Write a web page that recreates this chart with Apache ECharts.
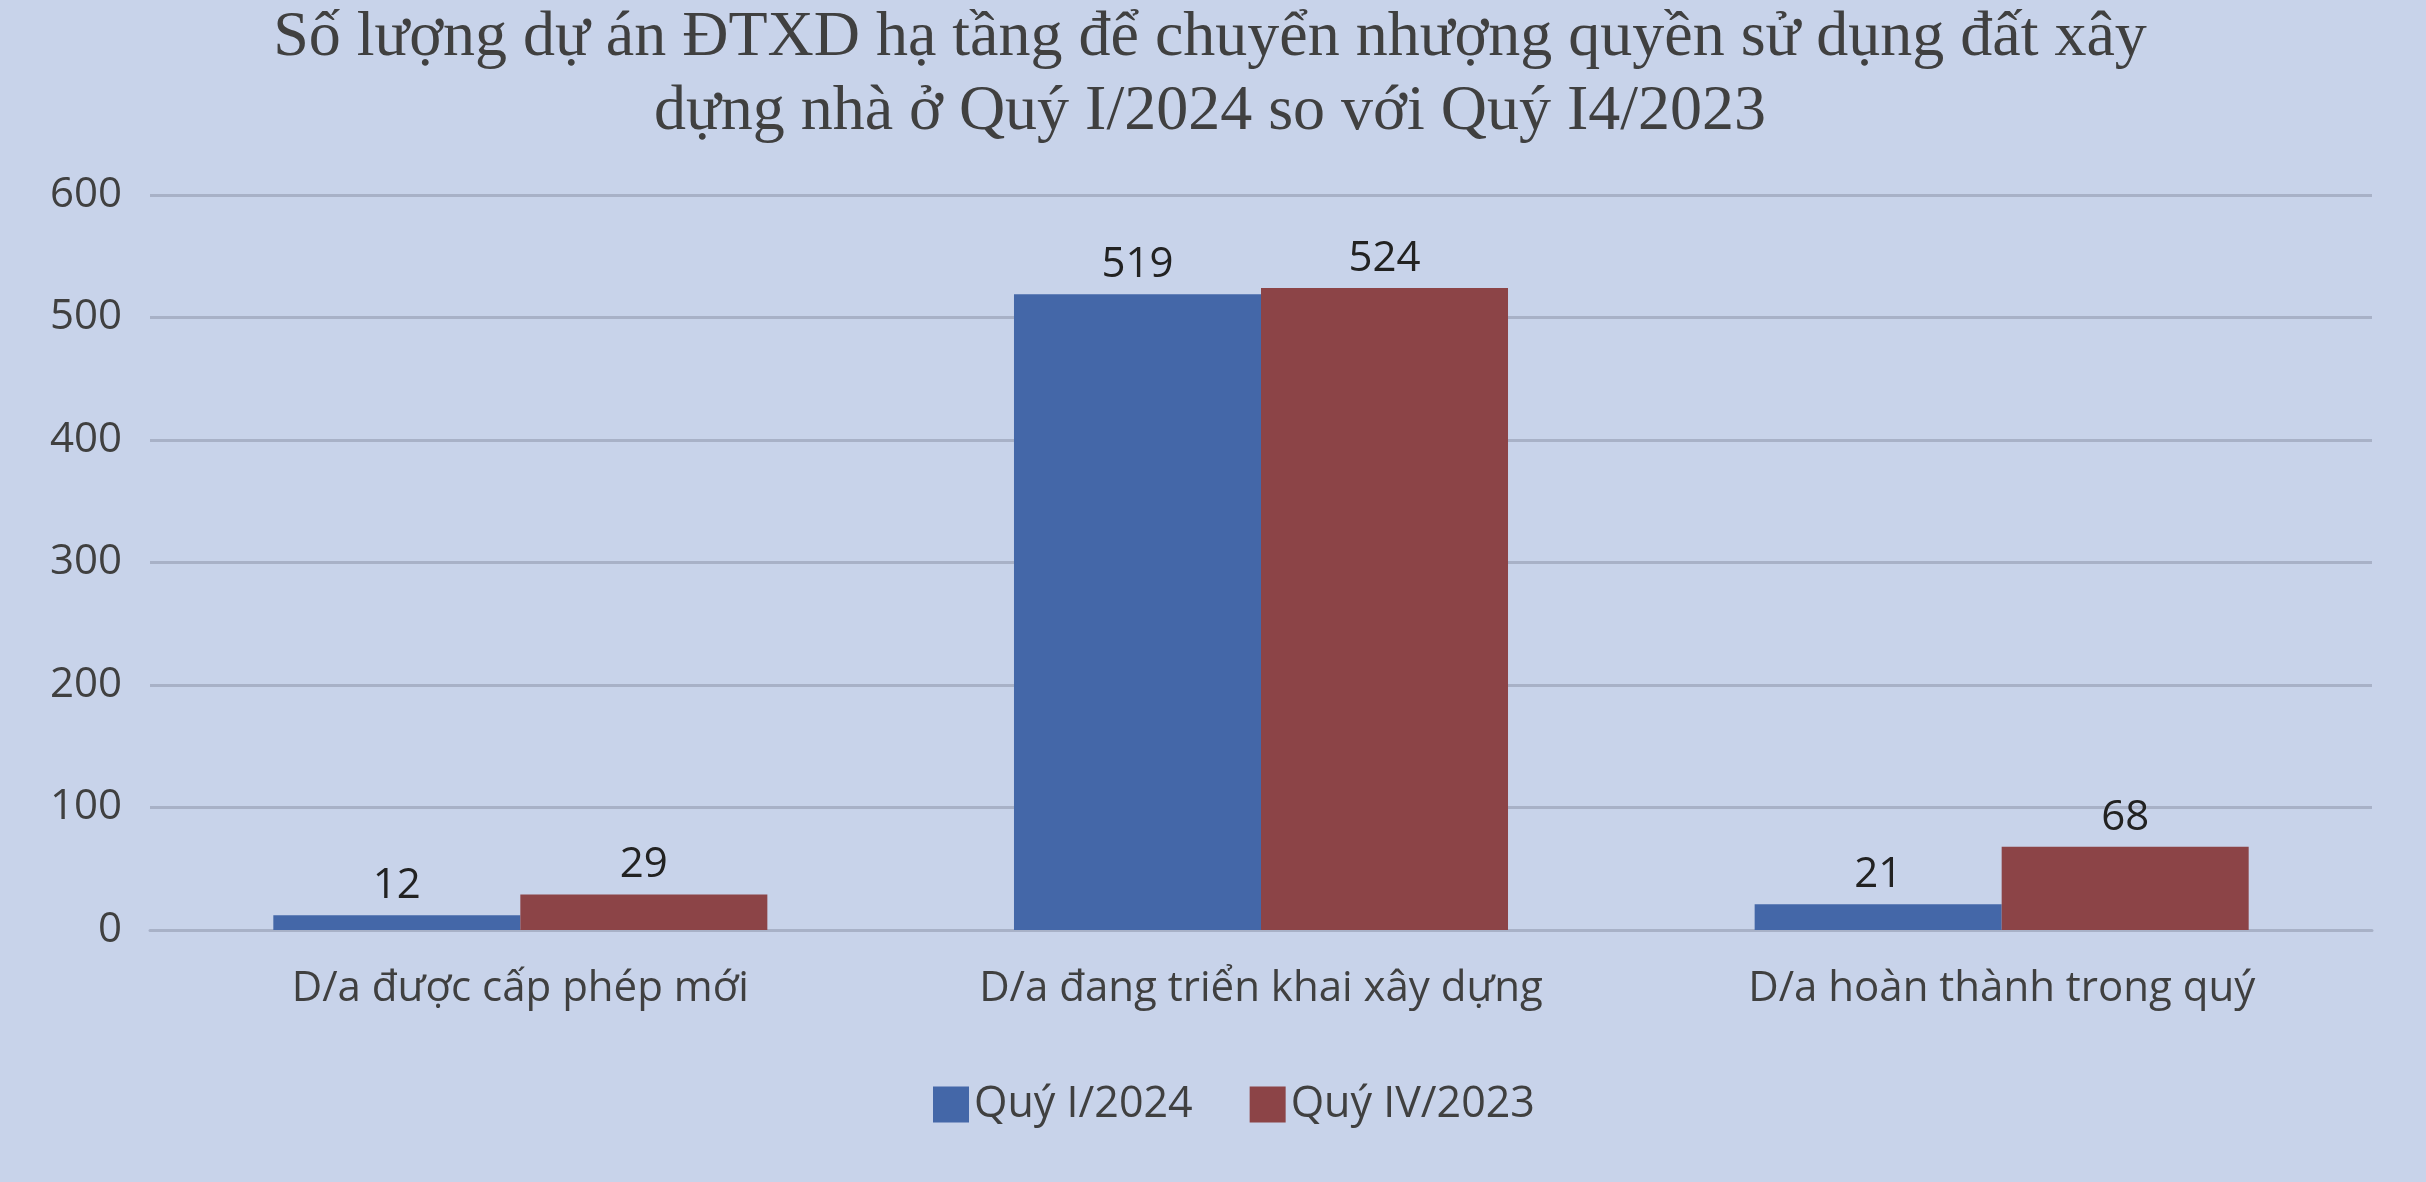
<!DOCTYPE html>
<html><head><meta charset="utf-8">
<script src="https://cdn.jsdelivr.net/npm/echarts@6/dist/echarts.min.js"></script>
<style>html,body{margin:0;padding:0;background:#c8d3ea;}#c{width:2426px;height:1182px;}</style>
</head><body><div id="c"></div>
<script>
const titleLines = ["Số lượng dự án ĐTXD hạ tầng để chuyển nhượng quyền sử dụng đất xây", "dựng nhà ở Quý I/2024 so với Quý I4/2023"];
const categories = ["D/a được cấp phép mới", "D/a đang triển khai xây dựng", "D/a hoàn thành trong quý"];
const seriesNames = ["Quý I/2024", "Quý IV/2023"];
const q1_2024 = [12, 519, 21];
const q4_2023 = [29, 524, 68];
const yTicks = [0, 100, 200, 300, 400, 500, 600];

const chart = echarts.init(document.getElementById('c'));
const txt = '#404040';
const sansFont = 'Open Sans';
chart.setOption({
  backgroundColor: '#c8d3ea',
  animation: false,
  title: {
    text: titleLines.join('\n'),
    left: 1205, top: -4, textAlign: 'center',
    textStyle: { fontFamily: 'Liberation Serif', fontSize: 64, fontWeight: 'normal', color: txt, lineHeight: 74 }
  },
  legend: {
    data: seriesNames, bottom: 51, left: 928,
    itemWidth: 36, itemHeight: 36, itemGap: 57,
    textStyle: { fontFamily: sansFont, fontSize: 43, color: txt },
    icon: 'rect'
  },
  grid: { left: 150, right: 54, top: 195, bottom: 252 },
  xAxis: {
    type: 'category', data: categories,
    axisLine: { show: true, lineStyle: { color: '#a8b1c7', width: 3 } },
    axisTick: { show: false },
    axisLabel: { fontFamily: sansFont, fontSize: 42, color: txt, margin: 38 }
  },
  yAxis: {
    type: 'value', min: yTicks[0], max: yTicks[yTicks.length - 1], interval: 100,
    axisLine: { show: false }, axisTick: { show: false },
    axisLabel: { fontFamily: sansFont, fontSize: 42, color: txt, margin: 28 },
    splitLine: { lineStyle: { color: '#a8b1c7', width: 3 } }
  },
  series: [
    { name: seriesNames[0], type: 'bar', data: q1_2024, barGap: '0%', barCategoryGap: '33.3%',
      itemStyle: { color: '#4467a8' },
      label: { show: true, position: 'top', distance: 8, fontFamily: sansFont, fontSize: 42, color: '#222' } },
    { name: seriesNames[1], type: 'bar', data: q4_2023, barGap: '0%', barCategoryGap: '33.3%',
      itemStyle: { color: '#8c4447' },
      label: { show: true, position: 'top', distance: 8, fontFamily: sansFont, fontSize: 42, color: '#222' } }
  ]
});
</script></body></html>
